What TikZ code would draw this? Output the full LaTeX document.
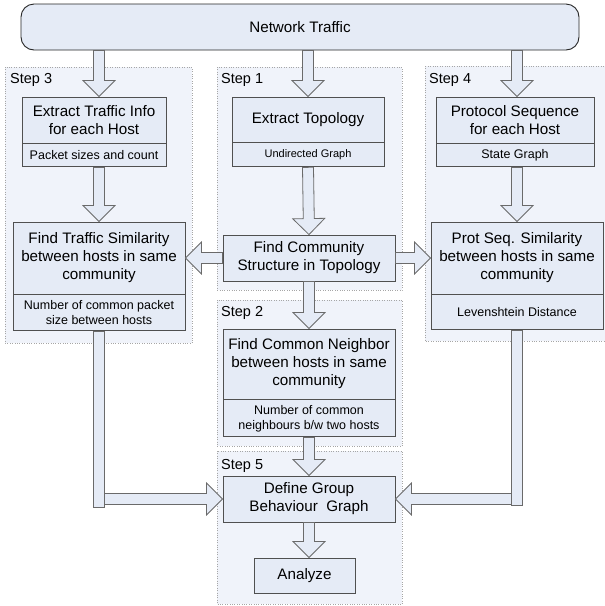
\documentclass[tikz,border=0pt]{standalone}
\usepackage{fontspec}
\setmainfont{Liberation Sans}
\usetikzlibrary{positioning,calc}
\definecolor{boxfill}{RGB}{229,235,246}
\definecolor{stepfill}{RGB}{240,243,250}
\definecolor{boxline}{RGB}{80,80,80}
\newcommand{\fatarrow}[2]{%
  \coordinate (fab) at ($(#2)!16pt!(#1)$);
  \draw[fat] ($(#1)!5.5pt!90:(fab)$) -- ($(fab)!5.5pt!-90:(#1)$)
    -- ($(fab)!16pt!-90:(#1)$) -- (#2) -- ($(fab)!16pt!90:(#1)$)
    -- ($(fab)!5.5pt!90:(#1)$) -- ($(#1)!5.5pt!-90:(fab)$) -- cycle;}

\begin{document}
\begin{tikzpicture}
[x=1pt,y=-1pt
,bx/.style={draw=boxline,fill=boxfill,line width=0.9pt,align=center,inner sep=0pt,font=\fontsize{15.2}{18}\selectfont}
,sub/.style={bx,font=\fontsize{12.5}{15}\selectfont}
,stepbg/.style={draw=gray!70,dotted,fill=stepfill}
,steplbl/.style={anchor=west,inner sep=0pt,font=\fontsize{14.5}{17}\selectfont}
,fat/.style={draw=boxline!85,fill=boxfill,line width=0.8pt,line join=miter}]
\useasboundingbox (0,0) rectangle (605,606);
\draw[stepbg] (5,67) rectangle (192,343);
\draw[stepbg] (217,67) rectangle (402,290);
\draw[stepbg] (425,66) rectangle (610,341);
\draw[stepbg] (217,300) rectangle (402,446);
\draw[stepbg] (217,451) rectangle (402,604);
\node[steplbl] (s3) at (10,80) {Step 3};
\node[steplbl] (s1) at (221,80) {Step 1};
\node[steplbl] (s4) at (429,80) {Step 4};
\node[steplbl] (s2) at (221,313) {Step 2};
\node[steplbl] (s5) at (221,466) {Step 5};

\node[bx,draw=black!85,rounded corners=13pt,minimum width=558pt,minimum height=46pt] (net) at (300,27) {Network Traffic};

\node[bx,minimum width=144pt,minimum height=46pt] (info3) at (94,120) {Extract Traffic Info\\for each Host};
\node[sub,minimum width=144pt,minimum height=23pt,below=0pt of info3] (info3s) {Packet sizes and count};
\node[bx,minimum width=152pt,minimum height=45pt] (topo) at (308,119.5) {Extract Topology};
\node[sub,font=\fontsize{11}{13}\selectfont,minimum width=152pt,minimum height=24pt,below=0pt of topo] (topos) {Undirected Graph};
\node[bx,minimum width=158pt,minimum height=46pt] (proto) at (515,120) {Protocol Sequence\\for each Host};
\node[sub,minimum width=158pt,minimum height=23pt,below=0pt of proto] (protos) {State Graph};

\node[bx,minimum width=172pt,minimum height=72pt] (sim3) at (99,258) {Find Traffic Similarity\\between hosts in same\\community};
\node[sub,minimum width=172pt,minimum height=36pt,below=0pt of sim3] (sim3s) {Number of common packet\\size between hosts};
\node[bx,minimum width=172pt,minimum height=46pt] (comm) at (309,258) {Find Community\\Structure in Topology};
\node[bx,minimum width=172pt,minimum height=72pt] (sim4) at (517,258) {Prot Seq. Similarity\\between hosts in same\\community};
\node[sub,minimum width=172pt,minimum height=35pt,below=0pt of sim4] (sim4s) {Levenshtein Distance};

\node[bx,minimum width=172pt,minimum height=70pt] (nbr2) at (309,364) {Find Common Neighbor\\between hosts in same\\community};
\node[sub,minimum width=172pt,minimum height=37pt,below=0pt of nbr2] (nbr2s) {Number of common\\neighbours b/w two hosts};
\node[bx,minimum width=172pt,minimum height=46pt] (grp) at (309,499) {Define Group\\Behaviour\ \ Graph};
\node[bx,minimum width=101pt,minimum height=35pt] (ana) at (304.5,575.5) {Analyze};

% arrows out of the traffic bar
\coordinate (a3) at (net.south -| sim3.north);
\coordinate (b3) at (info3.north -| sim3.north);
\fatarrow{a3}{b3}
\fatarrow{net.south -| topo.north}{topo.north}
\coordinate (a4) at (net.south -| sim4.north);
\coordinate (b4) at (proto.north -| sim4.north);
\fatarrow{a4}{b4}
\coordinate (c3) at (info3s.south -| sim3.north);
\fatarrow{c3}{sim3.north}
\fatarrow{topos.south}{comm.north}
\coordinate (c4) at (protos.south -| sim4.north);
\fatarrow{c4}{sim4.north}
\fatarrow{comm.west}{sim3.east}
\fatarrow{comm.east}{sim4.west}
\fatarrow{comm.south}{nbr2.north}
\fatarrow{nbr2s.south}{grp.north}
\coordinate (d5) at (ana.north -| grp.south);
\fatarrow{grp.south}{d5}

% bent feeds into step 5
\coordinate (lb) at (sim3s.south |- grp.west);
\draw[fat] ($(sim3s.south)+(-5.5,0)$) rectangle ($(lb)+(5.5,8)$);
\coordinate (lt) at ($(lb)+(5.5,0)$);
\fatarrow{lt}{grp.west}
\coordinate (rb) at (sim4s.south |- grp.east);
\draw[fat] ($(sim4s.south)+(-5.5,0)$) rectangle ($(rb)+(5.5,6)$);
\coordinate (rt) at ($(rb)+(-5.5,0)$);
\fatarrow{rt}{grp.east}
\end{tikzpicture}
\end{document}
